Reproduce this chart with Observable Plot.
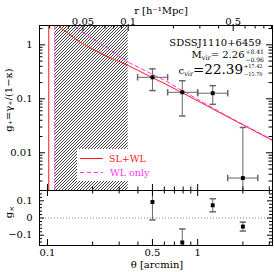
<!DOCTYPE html>
<html><head><meta charset="utf-8">
<script src="https://cdn.jsdelivr.net/npm/d3@7"></script>
<script src="https://cdn.jsdelivr.net/npm/@observablehq/plot@0.6"></script>
<style>
html,body{margin:0;padding:0;background:#fff;}
#chart{position:relative;width:274px;height:272px;overflow:hidden;font-family:"DejaVu Serif",serif;}
#chart svg{position:absolute;left:0;overflow:visible;background:transparent;}
</style></head><body><div id="chart"></div>
<script>
// ---- data ----
const thetaBin  = [0.50, 0.79, 1.26, 2.00];          // arcmin
const thetaLo   = [0.398, 0.631, 1.00, 1.585];
const thetaHi   = [0.631, 1.00, 1.585, 2.512];
const gPlus     = [0.250, 0.132, 0.127, 0.0034];
const gPlusErr  = [0.108, 0.084, 0.048, 0.026];
const gCross    = [0.093, -0.142, 0.074, -0.050];
const gCrossErr = [0.104, 0.078, 0.038, 0.026];

const thetaSLWL = [0.118, 0.121, 0.1646, 0.2415, 0.345, 0.50, 0.606, 0.99, 1.72, 3.15];
const gSLWL     = [2.6,   2.12,  1.12,   0.634,  0.414, 0.246, 0.19, 0.093, 0.041, 0.0169];
const thetaWL   = [0.145, 0.150, 0.1646, 0.2415, 0.345, 0.606, 0.99, 1.72, 3.15];
const gWL       = [2.6,   2.28,  1.84,   0.93,   0.476, 0.218, 0.099, 0.042, 0.0173];
const thetaEinstein = [0.102, 0.112];                 // SL+WL, WL only
const hatchTheta = [0.112, 0.345];
const rPerArcmin = 0.29;                               // h^-1 Mpc per arcmin

const thetaTickLabels = [0.1, 0.5, 1];
const thetaTickMinor  = [0.2, 0.3, 0.4, 0.6, 0.7, 0.8, 0.9, 2, 3];
const rTickLabels = [0.05, 0.1, 0.5];
const rTickMinor  = [0.03, 0.04, 0.06, 0.07, 0.08, 0.09, 0.2, 0.3, 0.4, 0.6, 0.7, 0.8, 0.9];
const gTickLabels = [0.01, 0.1, 1];
const gTickMinor  = [0.002,0.003,0.004,0.005,0.006,0.007,0.008,0.009,
                     0.02,0.03,0.04,0.05,0.06,0.07,0.08,0.09,
                     0.2,0.3,0.4,0.5,0.6,0.7,0.8,0.9,2];
const gxTickLabels = [-0.1, 0, 0.1];
const gxTickMinor  = [-0.14,-0.12,-0.08,-0.06,-0.04,-0.02,0.02,0.04,0.06,0.08,0.12,0.14];

// ---- layout ----
const W = 274, ML = 39, MR = 2;
const topH = 190, topMT = 25, topIH = topH - topMT;
const botH = 82, botMB = 27, botIH = botH - botMB;
const IW = W - ML - MR;
const xDomain = [0.0885, 3.15];
const font = "DejaVu Serif";
const barColor = "#666";
const MAJ = 6, MIN = 3.5;

const hcap = {draw(ctx, size){const r = Math.sqrt(size/Math.PI); ctx.moveTo(-r,0); ctx.lineTo(r,0);}};
const vcap = {draw(ctx, size){const r = Math.sqrt(size/Math.PI); ctx.moveTo(0,-r); ctx.lineTo(0,r);}};

const pts = thetaBin.map((t,i) => ({
  t, lo: thetaLo[i], hi: thetaHi[i],
  g: gPlus[i], g1: Math.max(gPlus[i]-gPlusErr[i], 1e-5), g2: gPlus[i]+gPlusErr[i],
  gx: gCross[i], gx1: gCross[i]-gCrossErr[i], gx2: gCross[i]+gCrossErr[i]
}));
const curveSLWL = thetaSLWL.map((t,i)=>({t, g: gSLWL[i]}));
const curveWL = thetaWL.map((t,i)=>({t, g: gWL[i]}));

function xTicks(vals, len, where, innerH, map = d=>d) {
  return Plot.ruleX(vals, {x: map, stroke: "black", ...(where === "top" ? {insetBottom: innerH - len} : {insetTop: innerH - len})});
}
function yTicks(vals, len, where) {
  return Plot.ruleY(vals, {y: d=>d, stroke: "black", ...(where === "left" ? {insetRight: IW - len} : {insetLeft: IW - len})});
}
const fmt = d => d < 0 ? "\u2212" + Math.abs(d) : String(d);

const topSvg = Plot.plot({
  width: W, height: topH, marginTop: topMT, marginBottom: 0, marginLeft: ML, marginRight: MR,
  x: {type: "log", domain: xDomain, axis: null},
  y: {type: "log", domain: [0.002, 2.28], axis: null},
  style: {fontFamily: font, fontSize: "10px", overflow: "visible", background: "transparent"},
  marks: [
    Plot.rect([hatchTheta], {x1: d=>d[0], x2: d=>d[1], fill: "url(#hatch)"}),
    Plot.ruleX([thetaEinstein[0]], {stroke: "#ff1a1a"}),
    Plot.ruleX([thetaEinstein[1]], {stroke: "#ff33ff", strokeDasharray: "4,3"}),
    Plot.line(curveSLWL, {x: "t", y: "g", stroke: "#ff1a1a", strokeWidth: 1, clip: true}),
    Plot.line(curveWL, {x: "t", y: "g", stroke: "#ff33ff", strokeWidth: 1, strokeDasharray: "4,3", clip: true}),
    Plot.ruleY(pts, {y: "g", x1: "lo", x2: "hi", stroke: barColor}),
    Plot.ruleX(pts, {x: "t", y1: "g1", y2: "g2", stroke: barColor, clip: true}),
    Plot.dot(pts, {x: "t", y: "g2", symbol: hcap, r: 3.2, stroke: barColor, fill: "none", clip: true}),
    Plot.dot(pts, {x: "t", y: "g1", symbol: hcap, r: 3.2, stroke: barColor, fill: "none", clip: true}),
    Plot.dot(pts, {x: "lo", y: "g", symbol: vcap, r: 3.2, stroke: barColor, fill: "none"}),
    Plot.dot(pts, {x: "hi", y: "g", symbol: vcap, r: 3.2, stroke: barColor, fill: "none"}),
    Plot.dot(pts, {x: "t", y: "g", symbol: "square", r: 2.2, fill: "black", stroke: "none"}),
    xTicks(thetaTickLabels, MAJ, "bottom", topIH),
    xTicks(thetaTickMinor, MIN, "bottom", topIH),
    xTicks(rTickLabels, MAJ, "top", topIH, r => r / rPerArcmin),
    xTicks(rTickMinor, MIN, "top", topIH, r => r / rPerArcmin),
    yTicks(gTickLabels, MAJ, "left"), yTicks(gTickMinor, MIN, "left"),
    yTicks(gTickLabels, MAJ, "right"), yTicks(gTickMinor, MIN, "right"),
    Plot.frame({stroke: "black"}),
    Plot.text(rTickLabels, {x: r => r / rPerArcmin, text: d => String(d), frameAnchor: "top", dy: -8, fill: "black"}),
    Plot.text(gTickLabels, {y: d => d, text: d => String(d), frameAnchor: "left", dx: -7, textAnchor: "end", fill: "black"}),
    Plot.text(["r [h\u207B\u00B9Mpc]"], {text: d => d, frameAnchor: "top", dy: -19, dx: 5, fill: "black"})
  ]
});

const botSvg = Plot.plot({
  width: W, height: botH, marginTop: 0, marginBottom: botMB, marginLeft: ML, marginRight: MR,
  x: {type: "log", domain: xDomain, axis: null},
  y: {domain: [-0.16, 0.16], axis: null},
  style: {fontFamily: font, fontSize: "10px", overflow: "visible", background: "transparent"},
  marks: [
    Plot.ruleY([0], {stroke: "#888", strokeDasharray: "1,2"}),
    Plot.ruleX(pts, {x: "t", y1: "gx1", y2: "gx2", stroke: barColor, clip: true}),
    Plot.dot(pts, {x: "t", y: "gx1", symbol: hcap, r: 3.2, stroke: barColor, fill: "none", clip: true}),
    Plot.dot(pts, {x: "t", y: "gx2", symbol: hcap, r: 3.2, stroke: barColor, fill: "none", clip: true}),
    Plot.dot(pts, {x: "t", y: "gx", symbol: "square", r: 2.2, fill: "black", stroke: "none"}),
    xTicks(thetaTickLabels, MAJ, "bottom", botIH), xTicks(thetaTickMinor, MIN, "bottom", botIH),
    xTicks(thetaTickLabels, MAJ, "top", botIH), xTicks(thetaTickMinor, MIN, "top", botIH),
    yTicks(gxTickLabels, 5, "left"), yTicks(gxTickMinor, 3, "left"),
    yTicks(gxTickLabels, 5, "right"), yTicks(gxTickMinor, 3, "right"),
    Plot.frame({stroke: "black"}),
    Plot.text(thetaTickLabels, {x: d => d, text: d => String(d), frameAnchor: "bottom", dy: 10.5, fill: "black"}),
    Plot.text(gxTickLabels, {y: d => d, text: fmt, frameAnchor: "left", dx: -7, textAnchor: "end", fill: "black"}),
    Plot.text(["\u03B8 [arcmin]"], {text: d => d, frameAnchor: "bottom", dy: 22, dx: 1, fill: "black"})
  ]
});

const chart = document.getElementById("chart");
topSvg.style.top = "0px"; botSvg.style.top = topH + "px";
chart.appendChild(topSvg); chart.appendChild(botSvg);

// hatch pattern
const st = d3.select(topSvg);
const defs = st.insert("defs", ":first-child");
const pat = defs.append("pattern").attr("id", "hatch").attr("patternUnits", "userSpaceOnUse")
  .attr("width", 3).attr("height", 3);
pat.append("rect").attr("width", 3).attr("height", 3).attr("fill", "white");
pat.append("path").attr("d", "M-1,1L1,-1M0,3L3,0M2,4L4,2").attr("stroke", "#000").attr("stroke-width", 0.75);

// y-axis title (top panel)
const yt = st.append("text").attr("font-family", font).attr("font-size", 10).attr("fill", "black")
  .attr("text-anchor", "middle").attr("transform", "translate(12,100) rotate(-90)")
  .text("g\u208A=\u03B3\u208A/(1\u2212\u03BA)");

// legend
const lg = st.append("g").attr("font-family", font).attr("text-anchor", "start");
lg.append("rect").attr("x", 77).attr("y", 149).attr("width", 52).attr("height", 32).attr("fill", "white");
lg.append("line").attr("x1", 80).attr("x2", 103).attr("y1", 158.5).attr("y2", 158.5).attr("stroke", "#ff1a1a");
lg.append("text").attr("x", 109).attr("y", 162).attr("font-size", 9.5).attr("fill", "#ff1a1a").text("SL+WL");
lg.append("line").attr("x1", 80).attr("x2", 103).attr("y1", 172.5).attr("y2", 172.5).attr("stroke", "#ff33ff").attr("stroke-dasharray", "4,3");
lg.append("text").attr("x", 110).attr("y", 176).attr("font-size", 9.5).attr("fill", "#ff33ff").text("WL only");

// annotation
const an = st.append("g").attr("font-family", font).attr("fill", "black").attr("text-anchor", "start");
an.append("text").attr("x", 261).attr("y", 46).attr("text-anchor", "end").attr("font-size", 10).text("SDSSJ1110+6459");
const m = an.append("text").attr("x", 244.5).attr("y", 58).attr("text-anchor", "end").attr("font-size", 10);
m.append("tspan").text("M");
m.append("tspan").attr("font-size", 6.5).attr("dy", 2).text("vir");
m.append("tspan").attr("dy", -2).text("= 2.26");
an.append("text").attr("x", 245.5).attr("y", 53.5).attr("font-size", 6).text("+8.41");
an.append("text").attr("x", 245.5).attr("y", 61.5).attr("font-size", 6).text("\u22120.96");
const c = an.append("text").attr("x", 243).attr("y", 74).attr("text-anchor", "end").attr("font-size", 10);
c.append("tspan").text("c");
c.append("tspan").attr("font-size", 6.5).attr("dy", 2).text("vir");
c.append("tspan").attr("font-size", 13.5).attr("dy", -2).text("=22.39");
an.append("text").attr("x", 244).attr("y", 67.5).attr("font-size", 5).text("+17.42");
an.append("text").attr("x", 244).attr("y", 75.5).attr("font-size", 5).text("\u221215.70");

// g_x label
const sb = d3.select(botSvg);
const gx = sb.append("text").attr("font-family", font).attr("font-size", 10).attr("fill", "black")
  .attr("text-anchor", "middle").attr("transform", "translate(12,22) rotate(-90)");
gx.append("tspan").text("g");
gx.append("tspan").attr("font-size", 7).attr("dy", 2).text("\u00D7");
</script></body></html>
